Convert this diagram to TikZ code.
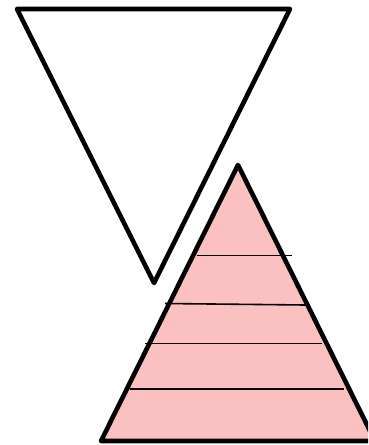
\documentclass[tikz,border=0pt]{standalone}
\usepackage{tikz}
\definecolor{pinkfill}{RGB}{251,193,193}
\begin{document}
\begin{tikzpicture}[x=1pt,y=-1pt,
  tri/.style={line width=4.6pt,line join=round,line cap=round},
  band/.style={line width=1.6pt}]
\useasboundingbox (0,0) rectangle (368,445);
\begin{scope}
\clip (0,0) rectangle (368,445);
% inverted triangle
\coordinate (a1) at (17,9);
\coordinate (a2) at (290,9);
\coordinate (a3) at (154,283);
\draw[tri,fill=white] (a1) -- (a2) -- (a3) -- cycle;
% pink triangle
\coordinate (p1) at (238,165);
\coordinate (p2) at (101,441);
\coordinate (p3) at (375,441);
\draw[tri,fill=pinkfill] (p1) -- (p3) -- (p2) -- cycle;
% bands
\coordinate (l1a) at (197,255.5); \coordinate (l1b) at (292,255.5);
\coordinate (l2a) at (165,303.5); \coordinate (l2b) at (305,305);
\coordinate (l3a) at (145,343.5); \coordinate (l3b) at (322,343.5);
\coordinate (l4a) at (130,389);   \coordinate (l4b) at (344,389);
\draw[band] (l1a) -- (l1b);
\draw[band] (l2a) -- (l2b);
\draw[band] (l3a) -- (l3b);
\draw[band] (l4a) -- (l4b);
\end{scope}
\end{tikzpicture}
\end{document}
